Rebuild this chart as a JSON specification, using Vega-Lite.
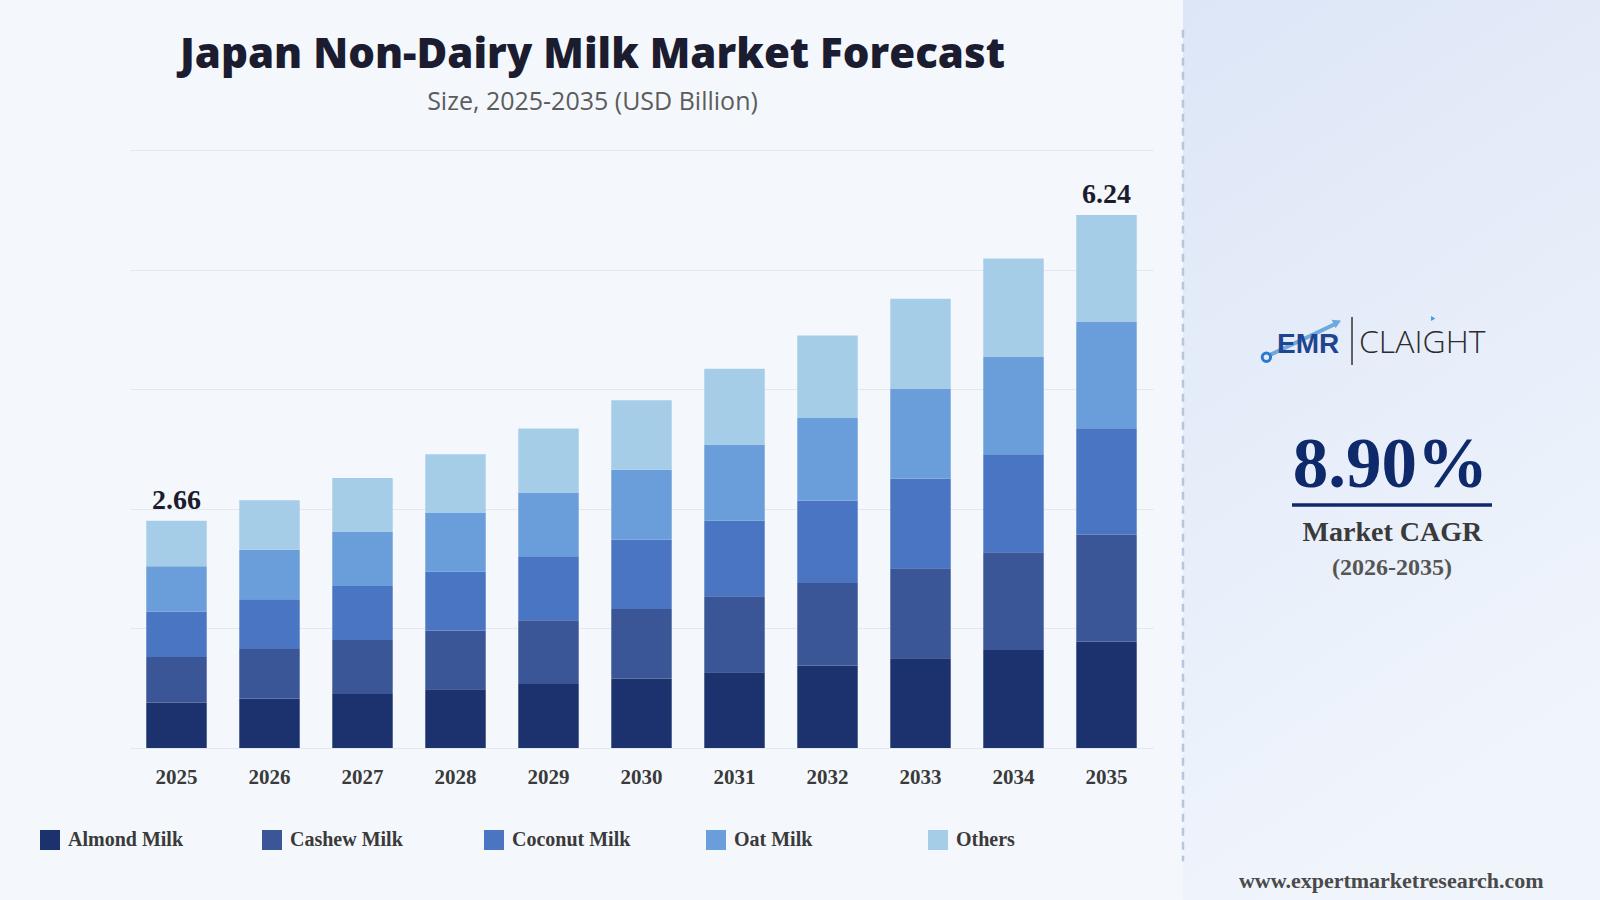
{
  "$schema": "https://vega.github.io/schema/vega-lite/v6.json",
  "background": "#f4f8fc",
  "padding": {"left": 40, "top": 0, "right": 0, "bottom": 0},
  "bounds": "flush",
  "spacing": 30,
  "config": {"view": {"stroke": null}},
  "datasets": {
    "market": [
      {"year": "2025", "segment": "Almond Milk", "value": 0.532},
      {"year": "2025", "segment": "Cashew Milk", "value": 0.532},
      {"year": "2025", "segment": "Coconut Milk", "value": 0.532},
      {"year": "2025", "segment": "Oat Milk", "value": 0.532},
      {"year": "2025", "segment": "Others", "value": 0.532},
      {"year": "2026", "segment": "Almond Milk", "value": 0.58},
      {"year": "2026", "segment": "Cashew Milk", "value": 0.58},
      {"year": "2026", "segment": "Coconut Milk", "value": 0.58},
      {"year": "2026", "segment": "Oat Milk", "value": 0.58},
      {"year": "2026", "segment": "Others", "value": 0.58},
      {"year": "2027", "segment": "Almond Milk", "value": 0.632},
      {"year": "2027", "segment": "Cashew Milk", "value": 0.632},
      {"year": "2027", "segment": "Coconut Milk", "value": 0.632},
      {"year": "2027", "segment": "Oat Milk", "value": 0.632},
      {"year": "2027", "segment": "Others", "value": 0.632},
      {"year": "2028", "segment": "Almond Milk", "value": 0.688},
      {"year": "2028", "segment": "Cashew Milk", "value": 0.688},
      {"year": "2028", "segment": "Coconut Milk", "value": 0.688},
      {"year": "2028", "segment": "Oat Milk", "value": 0.688},
      {"year": "2028", "segment": "Others", "value": 0.688},
      {"year": "2029", "segment": "Almond Milk", "value": 0.748},
      {"year": "2029", "segment": "Cashew Milk", "value": 0.748},
      {"year": "2029", "segment": "Coconut Milk", "value": 0.748},
      {"year": "2029", "segment": "Oat Milk", "value": 0.748},
      {"year": "2029", "segment": "Others", "value": 0.748},
      {"year": "2030", "segment": "Almond Milk", "value": 0.814},
      {"year": "2030", "segment": "Cashew Milk", "value": 0.814},
      {"year": "2030", "segment": "Coconut Milk", "value": 0.814},
      {"year": "2030", "segment": "Oat Milk", "value": 0.814},
      {"year": "2030", "segment": "Others", "value": 0.814},
      {"year": "2031", "segment": "Almond Milk", "value": 0.888},
      {"year": "2031", "segment": "Cashew Milk", "value": 0.888},
      {"year": "2031", "segment": "Coconut Milk", "value": 0.888},
      {"year": "2031", "segment": "Oat Milk", "value": 0.888},
      {"year": "2031", "segment": "Others", "value": 0.888},
      {"year": "2032", "segment": "Almond Milk", "value": 0.966},
      {"year": "2032", "segment": "Cashew Milk", "value": 0.966},
      {"year": "2032", "segment": "Coconut Milk", "value": 0.966},
      {"year": "2032", "segment": "Oat Milk", "value": 0.966},
      {"year": "2032", "segment": "Others", "value": 0.966},
      {"year": "2033", "segment": "Almond Milk", "value": 1.052},
      {"year": "2033", "segment": "Cashew Milk", "value": 1.052},
      {"year": "2033", "segment": "Coconut Milk", "value": 1.052},
      {"year": "2033", "segment": "Oat Milk", "value": 1.052},
      {"year": "2033", "segment": "Others", "value": 1.052},
      {"year": "2034", "segment": "Almond Milk", "value": 1.146},
      {"year": "2034", "segment": "Cashew Milk", "value": 1.146},
      {"year": "2034", "segment": "Coconut Milk", "value": 1.146},
      {"year": "2034", "segment": "Oat Milk", "value": 1.146},
      {"year": "2034", "segment": "Others", "value": 1.146},
      {"year": "2035", "segment": "Almond Milk", "value": 1.248},
      {"year": "2035", "segment": "Cashew Milk", "value": 1.248},
      {"year": "2035", "segment": "Coconut Milk", "value": 1.248},
      {"year": "2035", "segment": "Oat Milk", "value": 1.248},
      {"year": "2035", "segment": "Others", "value": 1.248}
    ]
  },
  "hconcat": [
    {
      "width": 1023,
      "height": 598,
      "title": {
        "text": "Japan Non-Dairy Milk Market Forecast",
        "subtitle": "Size, 2025-2035 (USD Billion)",
        "anchor": "middle",
        "dx": -49,
        "font": "Open Sans",
        "fontSize": 42,
        "fontWeight": 800,
        "color": "#1c1c30",
        "subtitleFont": "Open Sans",
        "subtitleFontSize": 25,
        "subtitleFontWeight": 400,
        "subtitleColor": "#5c5c5c",
        "subtitlePadding": 13,
        "offset": 34.5
      },
      "data": {"name": "market"},
      "layer": [
        {
          "mark": {"type": "bar"},
          "encoding": {
            "x": {
              "field": "year",
              "type": "ordinal",
              "scale": {"paddingInner": 0.35, "paddingOuter": 0.175},
              "axis": {
                "title": null,
                "ticks": false,
                "domain": false,
                "labelAngle": 0,
                "labelFont": "Liberation Serif",
                "labelFontWeight": "bold",
                "labelFontSize": 21,
                "labelColor": "#3a3a3a",
                "labelPadding": 18
              }
            },
            "y": {
              "field": "value",
              "type": "quantitative",
              "stack": "zero",
              "scale": {"domain": [0, 7], "nice": false},
              "axis": {
                "title": null,
                "values": [0, 1.4, 2.8, 4.2, 5.6, 7],
                "labels": false,
                "ticks": false,
                "domain": false,
                "grid": true,
                "gridColor": "#e3e7ee",
                "gridWidth": 1
              }
            },
            "color": {
              "field": "segment",
              "type": "nominal",
              "sort": ["Almond Milk", "Cashew Milk", "Coconut Milk", "Oat Milk", "Others"],
              "scale": {
                "domain": ["Almond Milk", "Cashew Milk", "Coconut Milk", "Oat Milk", "Others"],
                "range": ["#1b326e", "#3a5697", "#4a75c3", "#6a9edb", "#a6cde8"]
              },
              "legend": {
                "title": null,
                "orient": "none",
                "legendX": -90,
                "legendY": 680,
                "direction": "horizontal",
                "columns": 5,
                "gridAlign": "all",
                "columnPadding": 75,
                "symbolType": "square",
                "symbolSize": 400,
                "symbolStrokeWidth": 0,
                "symbolOpacity": 1,
                "labelFont": "Liberation Serif",
                "labelFontWeight": "bold",
                "labelFontSize": 20,
                "labelColor": "#3a3a3a",
                "labelOffset": 8,
                "labelLimit": 300
              }
            },
            "order": {"field": "segment", "sort": "ascending"}
          }
        },
        {
          "transform": [
            {"aggregate": [{"op": "sum", "field": "value", "as": "total"}], "groupby": ["year"]},
            {"filter": {"field": "year", "oneOf": ["2025", "2035"]}}
          ],
          "mark": {
            "type": "text",
            "font": "Liberation Serif",
            "fontWeight": "bold",
            "fontSize": 28,
            "color": "#1c1c2e",
            "baseline": "alphabetic",
            "dy": -12
          },
          "encoding": {
            "x": {"field": "year", "type": "ordinal"},
            "y": {"field": "total", "type": "quantitative"},
            "text": {"field": "total", "type": "quantitative", "format": ".2f"}
          }
        }
      ]
    },
    {
      "width": 417,
      "height": 598,
      "data": {"values": [{}]},
      "encoding": {
        "x": {"type": "quantitative", "scale": {"domain": [0, 1]}, "axis": null},
        "y": {"type": "quantitative", "scale": {"domain": [0, 1], "range": [-150, 750]}, "axis": null}
      },
      "layer": [
        {
          "mark": {
            "type": "rect",
            "fill": {
              "gradient": "linear",
              "x1": 0, "y1": 0, "x2": 0.3, "y2": 1,
              "stops": [
                {"offset": 0, "color": "#dde6f7"},
                {"offset": 1, "color": "#f0f5fc"}
              ]
            }
          },
          "encoding": {
            "x": {"datum": 0}, "x2": {"datum": 1},
            "y": {"datum": 0}, "y2": {"datum": 1}
          }
        },
        {
          "mark": {"type": "rule", "color": "#b6c6de", "strokeWidth": 2.5, "strokeDash": [8, 6]},
          "encoding": {
            "x": {"datum": 0},
            "y": {"datum": 0.033}, "y2": {"datum": 0.957}
          }
        },
        {
          "mark": {"type": "rule", "color": "#6fa8dc", "strokeWidth": 4, "strokeCap": "round"},
          "encoding": {
            "x": {"datum": 0.21}, "x2": {"datum": 0.365},
            "y": {"datum": 0.394}, "y2": {"datum": 0.36}
          }
        },
        {
          "mark": {"type": "point", "shape": "triangle-right", "filled": true, "color": "#6fa8dc", "size": 90, "angle": -25, "opacity": 1},
          "encoding": {"x": {"datum": 0.37}, "y": {"datum": 0.358}}
        },
        {
          "mark": {"type": "point", "shape": "circle", "filled": false, "color": "#2a7bd0", "size": 70, "strokeWidth": 3, "opacity": 1},
          "encoding": {"x": {"datum": 0.2}, "y": {"datum": 0.397}}
        },
        {
          "mark": {"type": "text", "text": "EMR", "font": "Liberation Sans", "fontWeight": "bold", "fontSize": 28, "color": "#1f4590", "align": "center", "baseline": "alphabetic"},
          "encoding": {"x": {"datum": 0.3}, "y": {"datum": 0.3926}}
        },
        {
          "mark": {"type": "rule", "color": "#333333", "strokeWidth": 1.5},
          "encoding": {"x": {"datum": 0.4053}, "y": {"datum": 0.3522}, "y2": {"datum": 0.4056}}
        },
        {
          "mark": {"type": "text", "text": "CLAIGHT", "font": "Open Sans", "fontWeight": 300, "fontSize": 32, "color": "#2b2b2b", "align": "left", "baseline": "alphabetic"},
          "encoding": {"x": {"datum": 0.422}, "y": {"datum": 0.3922}}
        },
        {
          "mark": {"type": "point", "shape": "triangle-right", "filled": true, "color": "#3aa0e0", "size": 25, "opacity": 1},
          "encoding": {"x": {"datum": 0.6}, "y": {"datum": 0.354}}
        },
        {
          "mark": {"type": "text", "text": "8.90%", "font": "Liberation Serif", "fontWeight": "bold", "fontSize": 71, "color": "#0f2a6b", "align": "center", "baseline": "alphabetic"},
          "encoding": {"x": {"datum": 0.4976}, "y": {"datum": 0.5408}}
        },
        {
          "mark": {"type": "rule", "color": "#0f2a6b", "strokeWidth": 3.5},
          "encoding": {"x": {"datum": 0.2614}, "x2": {"datum": 0.741}, "y": {"datum": 0.5611}}
        },
        {
          "mark": {"type": "text", "text": "Market CAGR", "font": "Liberation Serif", "fontWeight": "bold", "fontSize": 28, "color": "#3a3a3a", "align": "center", "baseline": "alphabetic"},
          "encoding": {"x": {"datum": 0.502}, "y": {"datum": 0.6009}}
        },
        {
          "mark": {"type": "text", "text": "(2026-2035)", "font": "Liberation Serif", "fontWeight": "bold", "fontSize": 24, "color": "#555555", "align": "center", "baseline": "alphabetic"},
          "encoding": {"x": {"datum": 0.501}, "y": {"datum": 0.639}}
        },
        {
          "mark": {"type": "text", "text": "www.expertmarketresearch.com", "font": "Liberation Serif", "fontWeight": "bold", "fontSize": 22, "color": "#4a4a4a", "align": "center", "baseline": "alphabetic"},
          "encoding": {"x": {"datum": 0.4995}, "y": {"datum": 0.9867}}
        }
      ]
    }
  ]
}
